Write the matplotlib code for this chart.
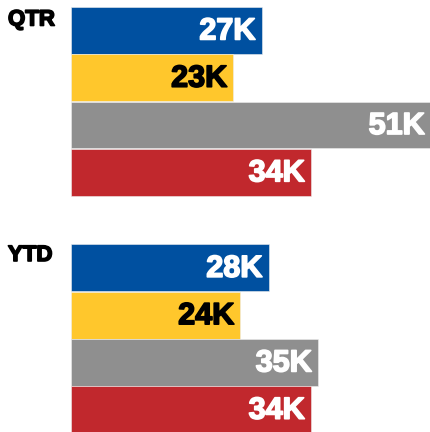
import matplotlib
matplotlib.use('Agg')
import matplotlib.pyplot as plt
import matplotlib.patheffects as pe
import numpy as np

groups = ['QTR', 'YTD']
qtr_values = [27, 23, 51, 34]
ytd_values = [28, 24, 35, 34]
labels_qtr = ['27K', '23K', '51K', '34K']
labels_ytd = ['28K', '24K', '35K', '34K']
colors = ['#0050a0', '#ffc72c', '#8f8f8f', '#c1282d']
text_colors = ['white', 'black', 'white', 'white']

plt.rcParams['font.family'] = ['Liberation Sans', 'DejaVu Sans']

fig = plt.figure(figsize=(4.31, 4.32), dpi=100)
ax = fig.add_axes([71 / 431, 0, 1 - 71 / 431, 1])

pos_qtr = np.arange(4)
pos_ytd = np.arange(4) + 5.02

for pos, vals, labs in [(pos_qtr, qtr_values, labels_qtr), (pos_ytd, ytd_values, labels_ytd)]:
    ax.barh(pos, vals, height=0.99, color=colors, edgecolor='#eeeeee', linewidth=0.4)
    for p, v, lab, tc in zip(pos, vals, labs, text_colors):
        t = ax.text(v - 0.9, p + 0.02, lab, ha='right', va='center', color=tc,
                    fontsize=22, fontweight='bold')
        t.set_path_effects([pe.withStroke(linewidth=1.2, foreground=tc)])

ax.set_xlim(0, 51)
ax.set_ylim(8.49, -0.645)
ax.axis('off')

for g, yc in zip(groups, [20, 255.5]):
    t = fig.text(8 / 431, 1 - yc / 432, g, ha='left', va='center',
                 fontsize=16, fontweight='bold', color='black')
    t.set_path_effects([pe.withStroke(linewidth=1.2, foreground='black')])

fig.savefig('out.png', dpi=100)
